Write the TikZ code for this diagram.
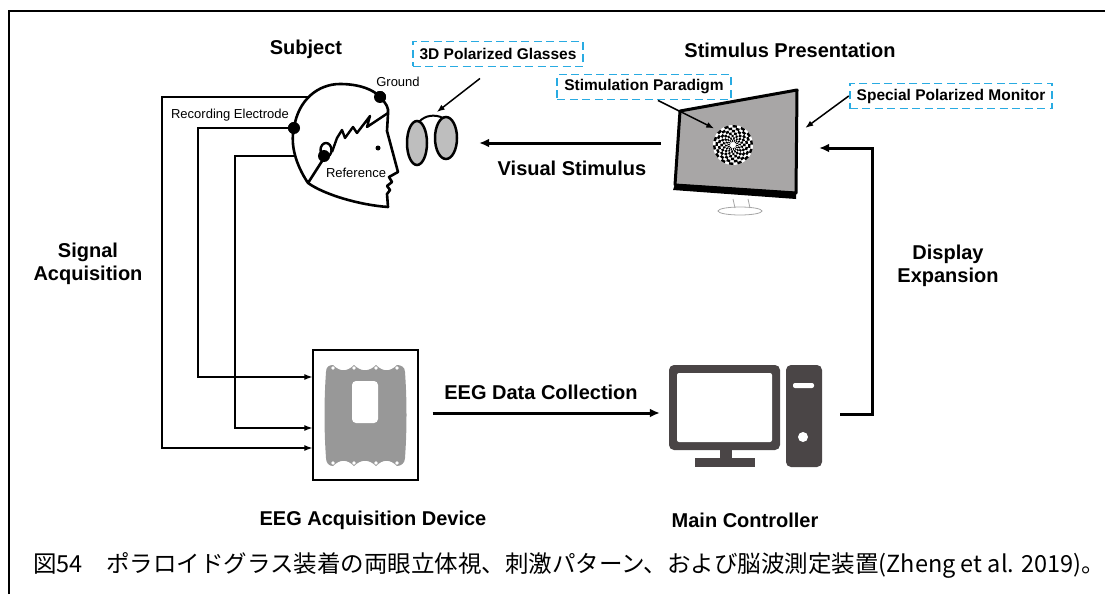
\documentclass[tikz,border=0pt]{standalone}
\usepackage{fontspec}
\setmainfont{Liberation Sans}
\newfontfamily\jpfont{Noto Sans CJK JP}
\usetikzlibrary{arrows.meta}

\definecolor{tagblue}{RGB}{41,171,226}
\definecolor{screengray}{RGB}{168,166,166}
\definecolor{pcgray}{RGB}{74,69,70}
\definecolor{devgray}{RGB}{152,152,152}
\definecolor{lensgray}{RGB}{190,190,190}

\tikzset{
  lbl/.style={font=\bfseries\fontsize{20}{23}\selectfont, align=center},
  tiny/.style={font=\fontsize{13}{15}\selectfont},
  tag/.style={draw=tagblue, line width=1.9pt, dash pattern=on 8pt off 4.5pt,
    font=\bfseries\fontsize{15.5}{18}\selectfont, inner xsep=7pt, minimum height=25pt},
  electrode/.style={circle, fill=black, inner sep=0pt, minimum size=12pt},
  wire/.style={line width=1.2pt, -{Latex[length=8pt,width=6pt]}},
  pointer/.style={line width=1.5pt, -{Latex[length=8pt,width=6pt]}},
  flow/.style={line width=3pt, -{Latex[length=10pt,width=9pt]}},
  pcbody/.style={fill=pcgray, inner sep=0pt, rounded corners=5pt}
}

\begin{document}
\begin{tikzpicture}[x=1pt,y=-1pt]
    \useasboundingbox (0,0) rectangle (1105,594);
    \draw[line width=1.5pt] (9,594) -- (9,11) -- (1105,11);

    % --- headings ---
    \node[lbl] (subj) at (306,49) {Subject};
    \node[lbl] (stim) at (790,50) {Stimulus Presentation};
    \node[lbl] (sigacq) at (88,264) {Signal\\Acquisition};
    \node[lbl] (dispexp) at (948,266) {Display\\Expansion};
    \node[lbl] (vis) at (572,168) {Visual Stimulus};
    \node[lbl] (eegdc) at (541,392) {EEG Data Collection};
    \node[lbl] (devlbl) at (373,520) {EEG Acquisition Device};
    \node[lbl] (pclbl) at (745,520) {Main Controller};

    % --- dashed tags ---
    \node[tag] (tagGlasses) at (498,54) {3D Polarized Glasses};
    \node[tag] (tagPar) at (644,87) {Stimulation Paradigm};
    \node[tag] (tagMon) at (951,96) {Special Polarized Monitor};

    % --- electrodes and wires (drawn under the head) ---
    \node[electrode] (gnd) at (380,97) {};
    \node[electrode] (rec) at (294,128) {};
    \node[electrode] (ref) at (324,156) {};
    \node[draw, line width=1.3pt, minimum width=105pt, minimum height=130pt] (dev) at (365.5,415) {};

    \coordinate (gndBend) at (162,448);
    \coordinate (recBend) at (198,377);
    \coordinate (refBend) at (235,428);
    \draw[wire] (gnd.center) -| (gndBend) -- (gndBend -| dev.west);
    \draw[wire] (rec.center) -| (recBend) -- (recBend -| dev.west);
    \draw[wire] (ref.center) -| (refBend) -- (refBend -| dev.west);

    % --- head ---
    \def\headline{(308,183) .. controls (296,165) and (290,145) .. (294,128)
        .. controls (298,100) and (318,84) .. (340,84)
        .. controls (360,84) and (374,90) .. (380,97)
        .. controls (386,103) and (389,108) .. (388,114)
        -- (387,131) -- (398,172) -- (389,177) -- (392,182) -- (387,186)
        -- (390,190) -- (387,194) -- (388,207)
        .. controls (360,205) and (325,195) .. (308,183)}
    \fill[white] \headline -- cycle;
    \draw[line width=2.6pt, line join=round] \headline -- (324,158);
    \draw[line width=2.4pt, line join=round] (332,152) -- (337,138) -- (342,130)
        -- (345,138) -- (353,127) -- (357,133) -- (370,116) -- (367,127) -- (388,113);
    \draw[line width=2.4pt] (326,150) ellipse [x radius=5.5, y radius=7];
    \fill (378,148) circle (2.5);
    \node[electrode] at (gnd) {};
    \node[electrode] at (rec) {};
    \node[electrode] at (ref) {};
    \node[tiny] (gndlbl) at (398,82) {Ground};
    \node[tiny] (reclbl) at (230,115) {Recording Electrode};
    \node[tiny] (reflbl) at (356,173) {Reference};

    % --- glasses ---
    \draw[line width=2pt] (419,122) .. controls (425,115) and (435,114) .. (443,118);
    \draw[line width=2.5pt, fill=lensgray] (417,143) ellipse [x radius=10, y radius=22];
    \draw[line width=2.5pt, fill=lensgray] (446,138) ellipse [x radius=11, y radius=21];
    \node[inner sep=0pt, minimum width=52pt, minimum height=48pt] (glasses) at (432,140) {};

    % --- stimulus monitor ---
    \draw[line width=0.8pt, black!35] (733,199) -- (735,208) (748,199) -- (750,208);
    \draw[line width=0.8pt, black!35] (740,211) ellipse [x radius=22, y radius=4];
    \draw[line width=3pt, line join=round, fill=screengray]
        (680,111) -- (797,90) -- (796,193) -- (675,185) -- cycle;
    \fill (675,184) -- (796,192) -- (796,199) -- (673,190) -- cycle;
    \node[inner sep=0pt, minimum width=124pt, minimum height=110pt] (screen) at (736,146) {};

    % checkerboard pattern
    \fill[white] (733,145) circle (20);
    \foreach \i in {0,...,6}{
      \pgfmathsetmacro\rin{3+\i*2.43}
      \pgfmathsetmacro\rout{3+(\i+1)*2.43}
      \foreach \j in {0,2,...,26}{
        \pgfmathsetmacro\a{(\j+mod(\i,2))*360/28+\i*2}
        \pgfmathsetmacro\b{\a+360/28}
        \fill ([shift={(\a:\rin)}]733,145) arc[start angle=\a, end angle=\b, radius=\rin]
          -- ([shift={(\b:\rout)}]733,145) arc[start angle=\b, end angle=\a, radius=\rout] -- cycle;
      }
    }
    \node[circle, inner sep=0pt, minimum size=40pt] (pattern) at (733,145) {};

    % --- acquisition device ---
    \fill[devgray] (326,372) .. controls (326,367) and (329,365) .. (333,365)
        .. controls (340,372) and (347,372) .. (354,365)
        .. controls (361,372) and (369,372) .. (376,365)
        .. controls (383,372) and (390,372) .. (397,365)
        .. controls (401,365) and (405,367) .. (405,372)
        .. controls (407,400) and (407,430) .. (405,458)
        .. controls (405,463) and (401,466) .. (397,466)
        .. controls (390,459) and (383,459) .. (376,466)
        .. controls (369,459) and (361,459) .. (354,466)
        .. controls (347,459) and (340,459) .. (333,466)
        .. controls (329,466) and (326,463) .. (326,458)
        .. controls (324,430) and (324,400) .. (326,372) -- cycle;
    \foreach \x in {333,354,376,397}{
      \fill[white] (\x,368) circle (1.8);
      \fill[white] (\x,463) circle (1.8);
    }
    \fill[white, rounded corners=4pt] (352,381) rectangle (378,423);

    % --- main controller ---
    \node[pcbody, minimum width=111pt, minimum height=85pt] (pcmon) at (724.5,407.5) {};
    \fill[white, rounded corners=2pt] (677,373) rectangle (772,442);
    \fill[pcgray] (720,449) rectangle (732,459);
    \fill[pcgray] (695,458) rectangle (755,467);
    \node[pcbody, minimum width=36pt, minimum height=102pt] (tower) at (804,416) {};
    \fill[white, rounded corners=2pt] (793,383) rectangle (814,388);
    \fill[white] (803,437) circle (5);

    % --- connectors ---
    \coordinate (visStart) at ([xshift=-13pt,yshift=3pt]screen.west);
    \coordinate (visEnd) at ([xshift=21pt]visStart -| glasses.east);
    \draw[flow] (visStart) -- (visEnd);
    \coordinate (eegOut) at ([xshift=14pt,yshift=2pt]dev.east);
    \draw[flow, shorten >=9pt] (eegOut) -- (eegOut -| pcmon.west);
    \coordinate (dispOut) at ([xshift=18pt,yshift=2pt]tower.east);
    \coordinate (dispTurn) at (872,148);
    \coordinate (dispIn) at ([xshift=21pt]dispTurn -| screen.east);
    \draw[flow] (dispOut) -| (dispTurn) -- (dispIn);
    \draw[pointer, shorten >=6pt] ([shift={(-18,11)}]tagGlasses.south) -- (glasses.north);
    \draw[pointer, shorten >=5pt] ([xshift=14pt]tagPar.south) -- (pattern.north west);
    \draw[pointer] (tagMon.west) -- ([xshift=7pt,yshift=18pt]screen.east);

    % --- caption ---
    \node[anchor=west, inner sep=0pt, font=\jpfont\fontsize{23.5}{27}\selectfont] (cap) at (33,565)
      {図54　ポラロイドグラス装着の両眼立体視、刺激パターン、および脳波測定装置(Zheng et al. 2019)。};
\end{tikzpicture}
\end{document}
